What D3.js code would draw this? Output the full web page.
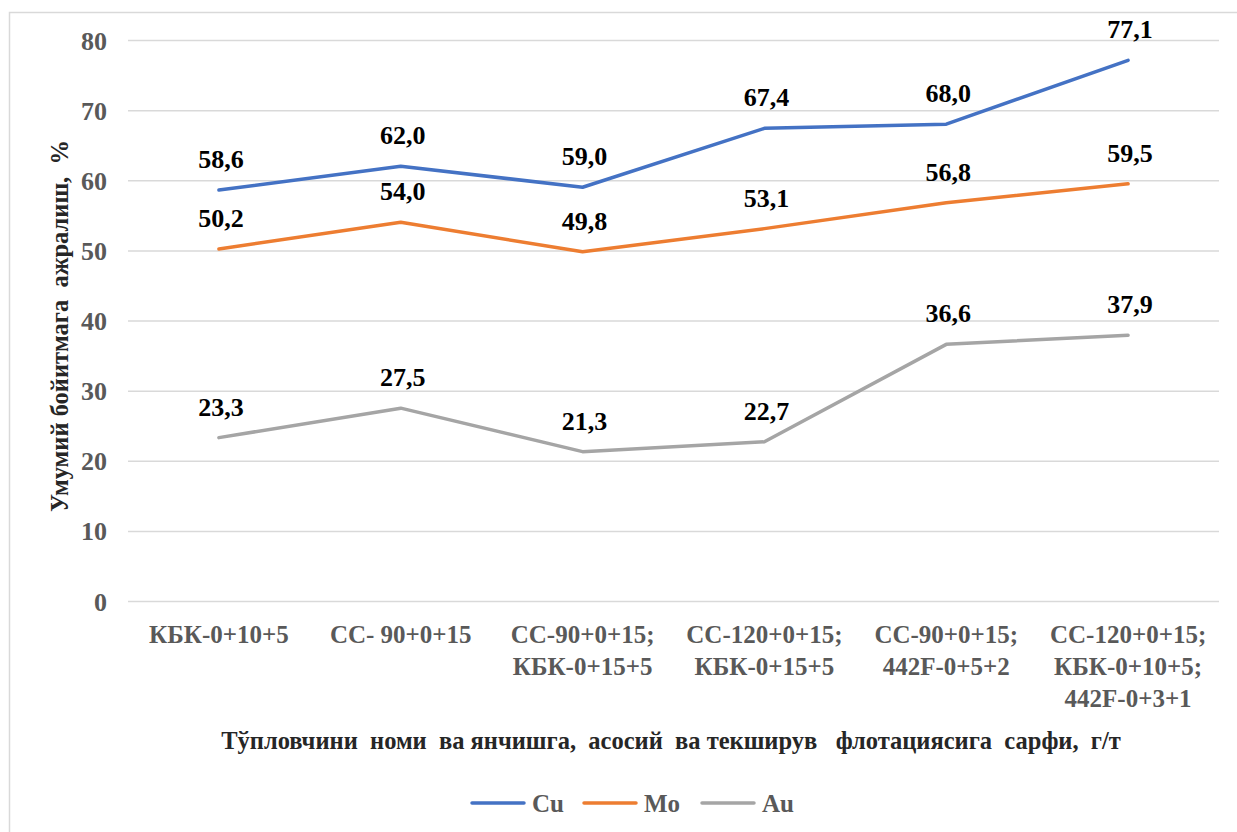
<!DOCTYPE html>
<html>
  <head>
    <meta charset="utf-8">
    <title>Умумий бойитмага ажралиш</title>
    <script src="https://d3js.org/d3.v7.min.js"></script>
    <style>
      body { margin: 0; background: #fff; }
      svg, svg g { font-family: "Liberation Serif", "Times New Roman", serif; font-weight: bold; }
      svg { display: block; }
      .grid line { stroke: #d9d9d9; stroke-width: 1.5; }
      .grid text { fill: #595959; font-size: 26px; }
      .cat text { fill: #595959; font-size: 25px; }
      .series { fill: none; stroke-width: 3.5; stroke-linejoin: round; stroke-linecap: round; }
      .value { fill: #000; font-size: 26px; text-anchor: middle; }
      .title { fill: #262626; font-size: 24.5px; white-space: pre; }
      .legend text { fill: #595959; font-size: 25px; }
    </style>
  </head>
  <body>
    <svg id="chart" width="1237" height="832"></svg>
    <script>
      // data
      var categories = [
        "КБК-0+10+5",
        "СС- 90+0+15",
        "СС-90+0+15;\nКБК-0+15+5",
        "СС-120+0+15;\nКБК-0+15+5",
        "СС-90+0+15;\n442F-0+5+2",
        "СС-120+0+15;\nКБК-0+10+5;\n442F-0+3+1"
      ];
      var cu = [58.6, 62.0, 59.0, 67.4, 68.0, 77.1];
      var mo = [50.2, 54.0, 49.8, 53.1, 56.8, 59.5];
      var au = [23.3, 27.5, 21.3, 22.7, 36.6, 37.9];
      var seriesNames = ["Cu", "Mo", "Au"];
      var seriesColours = ["#4472c4", "#ed7d31", "#a5a5a5"];
      var yTicks = [0, 10, 20, 30, 40, 50, 60, 70, 80];
      var xTitle = "Тўпловчини  номи  ва янчишга,  асосий  ва текширув   флотациясига  сарфи,  г/т";
      var yTitle = "Умумий бойитмага  ажралиш,  %";

      var series = [cu, mo, au].map(function(v, i) {
        return { name: seriesNames[i], colour: seriesColours[i], values: v };
      });

      var svg = d3.select("#chart");
      var plot = { left: 128, right: 1219, top: 40, bottom: 601 };
      var comma = function(v) { return d3.format(".1f")(v).replace(".", ","); };

      // outer frame
      svg.append("rect")
        .attr("x", 9.5).attr("y", 12.5)
        .attr("width", 1240).attr("height", 840)
        .attr("fill", "none")
        .attr("stroke", "#d9d9d9")
        .attr("stroke-width", 1.5);

      var x = d3.scaleBand()
        .domain(d3.range(categories.length))
        .range([plot.left, plot.right]);
      var y = d3.scaleLinear()
        .domain([0, 80])
        .range([plot.bottom, plot.top]);

      // gridlines and y ticks
      var yAxis = d3.axisLeft(y)
        .tickValues(yTicks)
        .tickSize(-(plot.right - plot.left))
        .tickPadding(21)
        .tickFormat(d3.format("d"));
      svg.append("g")
        .attr("class", "grid")
        .attr("transform", "translate(" + plot.left + ",0)")
        .call(yAxis)
        .call(function(g) { g.select(".domain").remove(); })
        .selectAll("text").attr("dy", "0.35em");

      // category labels
      var xAxis = d3.axisBottom(x)
        .tickSize(0)
        .tickPadding(0)
        .tickFormat(function(i) { return categories[i]; });
      var cat = svg.append("g")
        .attr("class", "cat")
        .attr("transform", "translate(0," + plot.bottom + ")")
        .call(xAxis)
        .call(function(g) { g.select(".domain").remove(); });
      cat.selectAll(".tick text")
        .text(null)
        .attr("y", 0)
        .attr("dy", null)
        .each(function(i) {
          var t = d3.select(this);
          categories[i].split("\n").forEach(function(line, k) {
            t.append("tspan")
              .attr("x", 0)
              .attr("y", 42 + k * 32)
              .text(line);
          });
        });

      // lines
      var line = d3.line()
        .x(function(d, i) { return x(i) + x.bandwidth() / 2; })
        .y(function(d) { return y(d); });
      svg.selectAll(".series")
        .data(series)
        .enter().append("path")
          .attr("class", "series")
          .attr("stroke", function(d) { return d.colour; })
          .attr("d", function(d) { return line(d.values); });

      // value labels
      series.forEach(function(s) {
        svg.append("g").selectAll("text")
          .data(s.values)
          .enter().append("text")
            .attr("class", "value")
            .attr("x", function(d, i) { return x(i) + x.bandwidth() / 2 + 2; })
            .attr("y", function(d) { return y(d) - 22; })
            .text(comma);
      });

      // axis titles
      svg.append("text")
        .attr("class", "title")
        .attr("x", 671)
        .attr("y", 749)
        .attr("text-anchor", "middle")
        .text(xTitle);
      svg.append("text")
        .attr("class", "title")
        .attr("transform", "translate(68,326) rotate(-90)")
        .attr("text-anchor", "middle")
        .text(yTitle);

      // legend
      var legendX = [472, 584, 702];
      var legend = svg.append("g").attr("class", "legend");
      series.forEach(function(s, i) {
        legend.append("line")
          .attr("x1", legendX[i]).attr("x2", legendX[i] + 52)
          .attr("y1", 803).attr("y2", 803)
          .attr("stroke", s.colour)
          .attr("stroke-width", 3.5)
          .attr("stroke-linecap", "round");
        legend.append("text")
          .attr("x", legendX[i] + 60)
          .attr("y", 812)
          .text(s.name);
      });
    </script>
  </body>
</html>
